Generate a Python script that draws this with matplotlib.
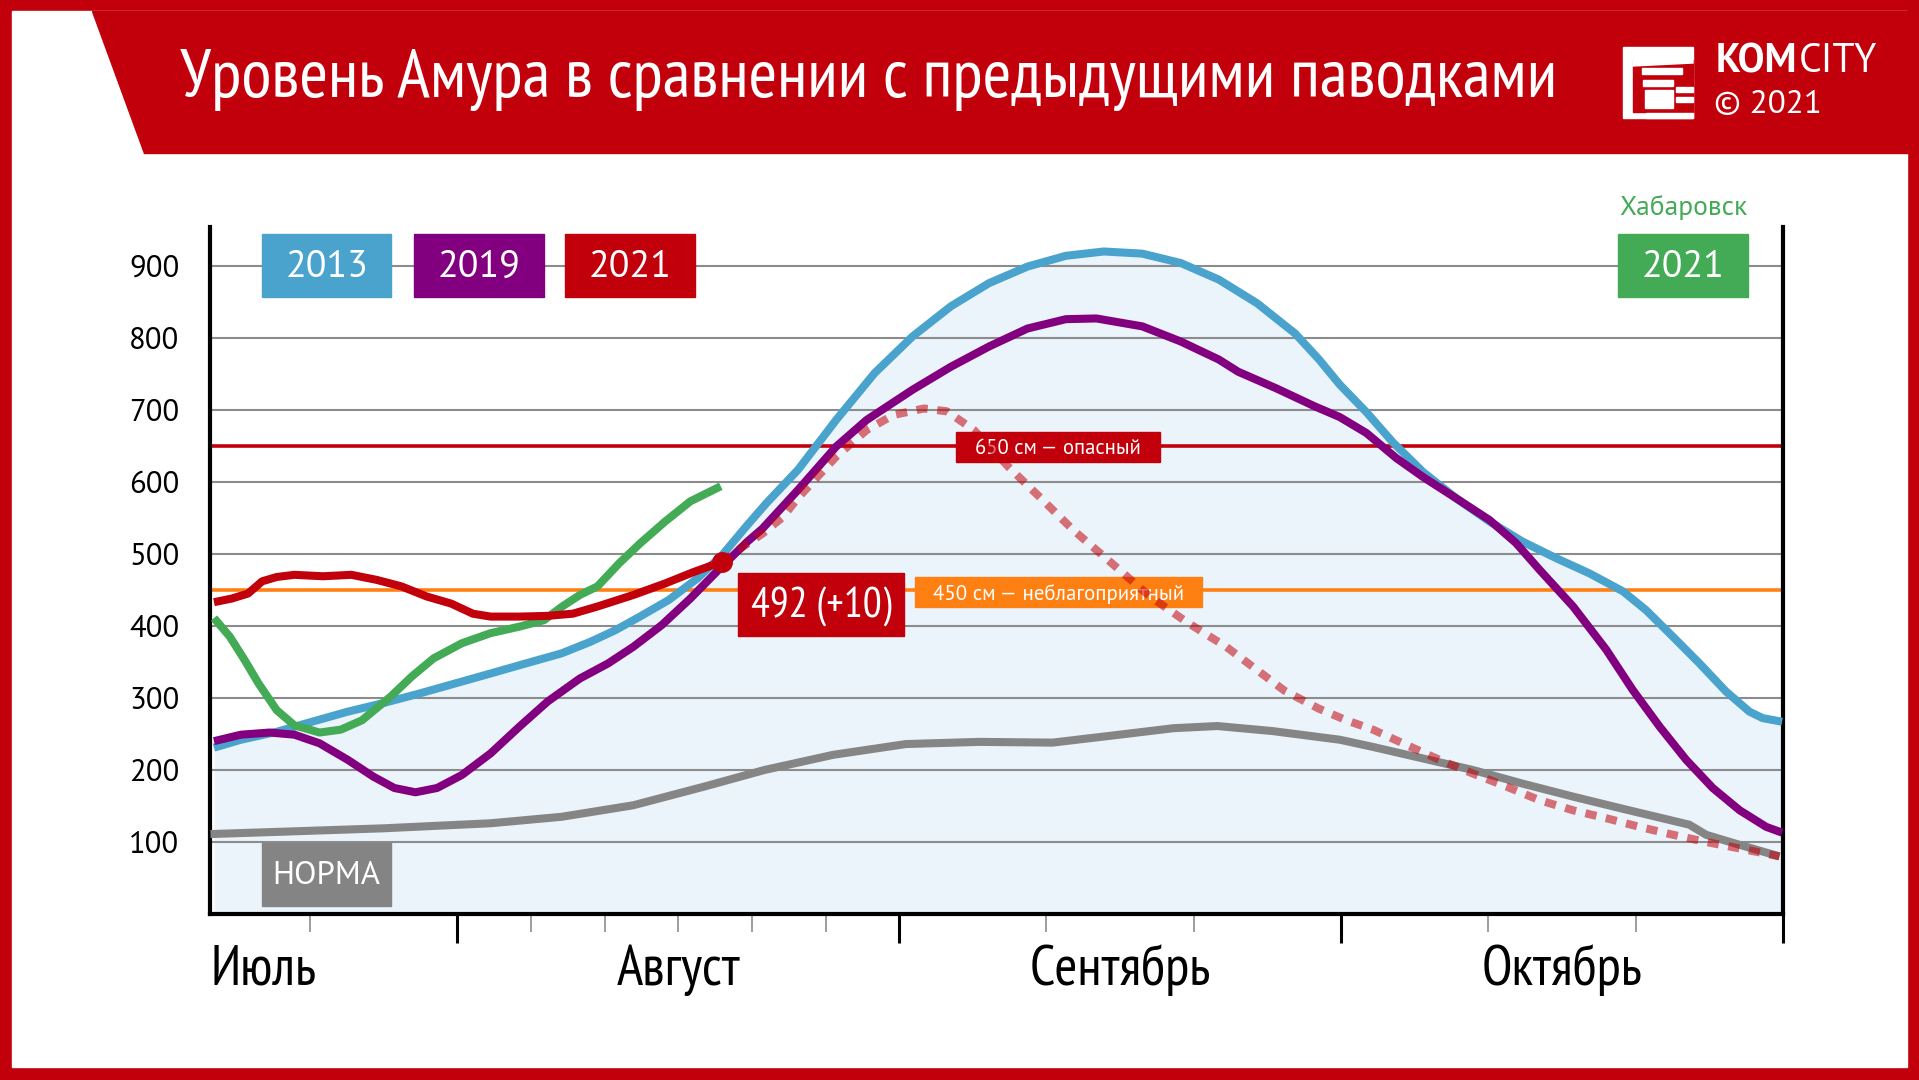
import matplotlib
matplotlib.use('Agg')
import matplotlib.pyplot as plt
from matplotlib.patches import Rectangle, Polygon

W, H = 1919, 1080

# x в долях месяца: 1 = 1 августа, 2 = 1 сентября, 3 = 1 октября, 4 = 1 ноября
x_2013 = [0.449, 0.510, 0.591, 0.671, 0.752, 0.833, 0.913, 0.994, 1.075, 1.155, 1.236, 1.301,
          1.357, 1.413, 1.478, 1.543, 1.600, 1.656, 1.700, 1.771, 1.857, 1.944, 2.030, 2.117,
          2.203, 2.290, 2.377, 2.463, 2.550, 2.637, 2.723, 2.810, 2.896, 2.950, 2.997, 3.057,
          3.117, 3.185, 3.261, 3.336, 3.411, 3.487, 3.562, 3.638, 3.690, 3.751, 3.811, 3.871,
          3.924, 3.954, 3.998]
y_2013 = [231, 242, 253, 267, 281, 293, 306, 320, 334, 348, 362, 378,
          394, 413, 436, 466, 499, 540, 571, 617, 686, 751, 802, 844,
          876, 899, 914, 920, 917, 904, 881, 848, 806, 770, 735, 697,
          655, 614, 577, 545, 517, 494, 473, 448, 422, 385, 348, 309,
          281, 272, 267]

x_2019 = [0.449, 0.510, 0.575, 0.631, 0.688, 0.752, 0.809, 0.857, 0.905, 0.954, 1.010, 1.075,
          1.140, 1.204, 1.277, 1.341, 1.398, 1.462, 1.527, 1.591, 1.656, 1.690, 1.771, 1.857,
          1.926, 2.030, 2.117, 2.203, 2.290, 2.377, 2.446, 2.550, 2.637, 2.723, 2.767, 2.853,
          2.940, 2.997, 3.057, 3.125, 3.185, 3.261, 3.336, 3.396, 3.449, 3.525, 3.600, 3.660,
          3.721, 3.781, 3.841, 3.902, 3.962, 3.998]
y_2019 = [240, 249, 252, 249, 237, 214, 191, 175, 169, 175, 193, 223,
          260, 295, 327, 348, 371, 401, 438, 478, 517, 535, 589, 649,
          686, 728, 760, 788, 813, 826, 827, 816, 795, 770, 753, 730,
          705, 690, 668, 633, 607, 577, 547, 515, 478, 427, 367, 311,
          260, 214, 175, 144, 121, 113]

x_2021 = [0.449, 0.489, 0.526, 0.558, 0.591, 0.631, 0.696, 0.760, 0.817, 0.873, 0.930, 0.986,
          1.035, 1.075, 1.140, 1.204, 1.261, 1.317, 1.398, 1.470, 1.535, 1.598]
y_2021 = [433, 438, 445, 462, 468, 471, 469, 471, 464, 455, 441, 431,
          417, 413, 413, 414, 417, 427, 443, 459, 475, 489]

x_khab = [0.449, 0.485, 0.518, 0.550, 0.591, 0.631, 0.688, 0.736, 0.784, 0.849, 0.897, 0.946,
          1.010, 1.075, 1.140, 1.196, 1.237, 1.277, 1.317, 1.366, 1.414, 1.470, 1.527, 1.596]
y_khab = [411, 385, 353, 320, 283, 262, 252, 256, 269, 302, 330, 355,
          376, 390, 399, 408, 427, 443, 455, 487, 515, 545, 573, 594]

# прогноз 2021
x_prog = [1.598, 1.646, 1.690, 1.736, 1.771, 1.857, 1.926, 1.987, 2.056, 2.108, 2.169, 2.247,
          2.316, 2.394, 2.481, 2.567, 2.654, 2.740, 2.872, 2.950, 3.012, 3.072, 3.147, 3.223,
          3.298, 3.374, 3.449, 3.525, 3.600, 3.675, 3.751, 3.826, 3.902, 3.992]
y_prog = [489, 510, 528, 551, 578, 635, 672, 693, 702, 698, 672, 621,
          580, 533, 487, 441, 404, 371, 310, 285, 269, 256, 235, 214,
          195, 177, 158, 144, 133, 121, 110, 100, 91, 80]

x_norm = [0.441, 0.591, 0.833, 1.075, 1.236, 1.398, 1.559, 1.695, 1.850, 2.015, 2.180, 2.347,
          2.512, 2.620, 2.720, 2.845, 2.997, 3.072, 3.185, 3.298, 3.411, 3.525, 3.638, 3.788,
          3.826, 3.902, 3.992]
y_norm = [111, 114, 119, 126, 135, 151, 177, 200, 221, 236, 239, 238,
          250, 258, 261, 254, 242, 232, 216, 200, 181, 163, 146, 124,
          110, 96, 80]

levels = [650, 450]
level_labels = ['650 см — опасный', '450 см — неблагоприятный']
y_ticks = [100, 200, 300, 400, 500, 600, 700, 800, 900]
months = ['Июль', 'Август', 'Сентябрь', 'Октябрь']
month_pos = [0.44, 1.5, 2.5, 3.5]
minor_pos = [0.667, 1.167, 1.333, 1.5, 1.667, 1.833, 2.333, 2.667, 3.333, 3.667]
last_value = '492 (+10)'

RED = '#C2000B'
BLUE = '#4AA3CD'
PURPLE = '#820080'
GREEN = '#43AA55'
GRAY = '#858585'
ORANGE = '#FF8012'
NARROW = ['PT Sans Narrow', 'Roboto Condensed', 'Fira Sans Condensed', 'Open Sans Condensed', 'DejaVu Sans']
REG = ['PT Sans', 'Open Sans', 'DejaVu Sans']

fig = plt.figure(figsize=(W / 100, H / 100), dpi=100, facecolor=RED)
renderer = fig.canvas.get_renderer()


def fx(x):
    return x / W


def fy(y):
    return 1 - y / H


def fit(t, width_px):
    # подгонка кегля под ширину надписи в оригинале
    w = t.get_window_extent(renderer).width
    t.set_fontsize(t.get_fontsize() * width_px / w)
    return t.get_fontsize()


# белое поле и красная шапка
fig.patches.append(Rectangle((fx(12), fy(1067)), fx(1907) - fx(12), fy(11) - fy(1067),
                             transform=fig.transFigure, color='white', zorder=-5))
fig.patches.append(Polygon([(fx(92), fy(11)), (fx(1919), fy(11)), (fx(1919), fy(153)), (fx(144), fy(153))],
                           closed=True, transform=fig.transFigure, color=RED, zorder=-4))

title = fig.text(fx(180), fy(80), 'Уровень Амура в сравнении с предыдущими паводками', color='white',
                 fontsize=50, family=NARROW, ha='left', va='center')
fit(title, 1377)

# логотип
def frect(x0, y0, x1, y1, color, z=-3):
    fig.patches.append(Rectangle((fx(x0), fy(y1)), fx(x1) - fx(x0), fy(y0) - fy(y1),
                                 transform=fig.transFigure, color=color, zorder=z))

frect(1623, 47, 1693, 118, 'white')
frect(1633, 60, 1693, 112, RED, -2)
fig.patches.append(Polygon([(fx(1633), fy(60)), (fx(1693), fy(56)), (fx(1693), fy(63)), (fx(1633), fy(66))],
                           closed=True, transform=fig.transFigure, color='white', zorder=-1))
for b in [(1642, 68, 1682, 74), (1643, 80, 1673, 86), (1645, 90, 1673, 108),
          (1676, 87, 1693, 92), (1676, 97, 1693, 102), (1646, 113, 1693, 118)]:
    frect(*b, 'white', -1)
t = fig.text(fx(1716), fy(62), 'KOM', color='white', fontsize=28, weight='bold', family=REG,
             ha='left', va='center')
fit(t, 82)
t = fig.text(fx(1799), fy(62), 'CITY', color='white', fontsize=28, family=REG,
             ha='left', va='center')
fit(t, 78)
t = fig.text(fx(1714), fy(105), '© 2021', color='white', fontsize=26, family=REG, ha='left', va='center')
fit(t, 108)

ax = fig.add_axes([fx(210), fy(914), fx(1783) - fx(210), fy(227) - fy(914)])
ax.set_facecolor('white')
ax.set_xlim(0.44, 4.0)
ax.set_ylim(0, 954)

ax.fill_between(x_2013, 0, y_2013, color='#EBF4FA', lw=0, zorder=0.5)
for v in y_ticks:
    ax.axhline(v, color='#8C8C8C', lw=1.5, zorder=1)
ax.axhline(levels[0], color=RED, lw=2.6, zorder=2)
ax.axhline(levels[1], color=ORANGE, lw=2.6, zorder=2)

kw = dict(lw=5.8, solid_capstyle='butt', solid_joinstyle='round')
ax.plot(x_norm, y_norm, color=GRAY, zorder=3, **kw)
ax.plot(x_2013, y_2013, color=BLUE, zorder=3.1, **kw)
ax.plot(x_2019, y_2019, color=PURPLE, zorder=3.2, **kw)
ax.plot(x_khab, y_khab, color=GREEN, zorder=3.3, **kw)
ax.plot(x_2021, y_2021, color=RED, zorder=3.4, **kw)
ax.plot(x_prog, y_prog, color=RED, alpha=0.55, lw=5.8, dashes=(1.4, 1.2),
        dash_capstyle='butt', zorder=3.8)
ax.plot(x_2021[-1], y_2021[-1], 'o', color=RED, ms=14, zorder=4)

ax.spines['top'].set_visible(False)
for s in ['left', 'right', 'bottom']:
    ax.spines[s].set_linewidth(3)
    ax.spines[s].set_color('black')

ax.set_yticks(y_ticks)
ax.tick_params(axis='y', length=0, pad=22, labelsize=21)
for t in ax.get_yticklabels():
    t.set_family(REG)
ytl = ax.get_yticklabels()[-1]
ysize = fit(ytl, 50)
ax.tick_params(axis='y', labelsize=ysize)

ax.set_xticks([1, 2, 3, 4])
ax.set_xticklabels([])
ax.set_xticks(minor_pos, minor=True)
ax.tick_params(axis='x', which='major', length=21, width=2.2, color='black', direction='out')
ax.tick_params(axis='x', which='minor', length=13, width=1.2, color='#8C8C8C', direction='out')
mlabels = []
for m, p in zip(months, month_pos):
    mlabels.append(ax.text(p, -0.082, m, transform=ax.get_xaxis_transform(), fontsize=32, family=NARROW,
                           ha='left' if p < 1 else 'center', va='center', color='black'))
msize = fit(mlabels[2], 182)
for t in mlabels:
    t.set_fontsize(msize)


def box(x0, y0, x1, y1, color, text, size, family=REG, z=5, tw=None):
    r = Rectangle((fx(x0), fy(y1)), fx(x1) - fx(x0), fy(y0) - fy(y1), transform=fig.transFigure,
                  color=color, zorder=z, clip_on=False)
    ax.add_patch(r)
    t = ax.text(fx((x0 + x1) / 2), fy((y0 + y1) / 2 + 2), text, transform=fig.transFigure, color='white',
                fontsize=size, family=family, ha='center', va='center', zorder=z + 0.1)
    if tw:
        fit(t, tw)
    return t


lg = box(262, 234, 391, 297, BLUE, '2013', 25, tw=83)
lsize = lg.get_fontsize()
box(414, 234, 544, 297, PURPLE, '2019', lsize)
box(565, 234, 695, 297, RED, '2021', lsize)
box(1618, 234, 1748, 297, GREEN, '2021', lsize)
t = ax.text(fx(1683), fy(207), 'Хабаровск', transform=fig.transFigure, color=GREEN, fontsize=18,
            family=REG, ha='center', va='center')
fit(t, 128)
box(262, 843, 391, 906, '#848484', 'НОРМА', 20, tw=108)
box(956, 432, 1160, 462, RED, level_labels[0], 13.5, z=3.6, tw=167)
box(915, 577, 1202, 607, ORANGE, level_labels[1], 13.5, z=3.6, tw=252)
box(738, 573, 904, 636, RED, last_value, 30, family=NARROW, tw=141)

fig.savefig('out.png', dpi=100, facecolor=RED)
